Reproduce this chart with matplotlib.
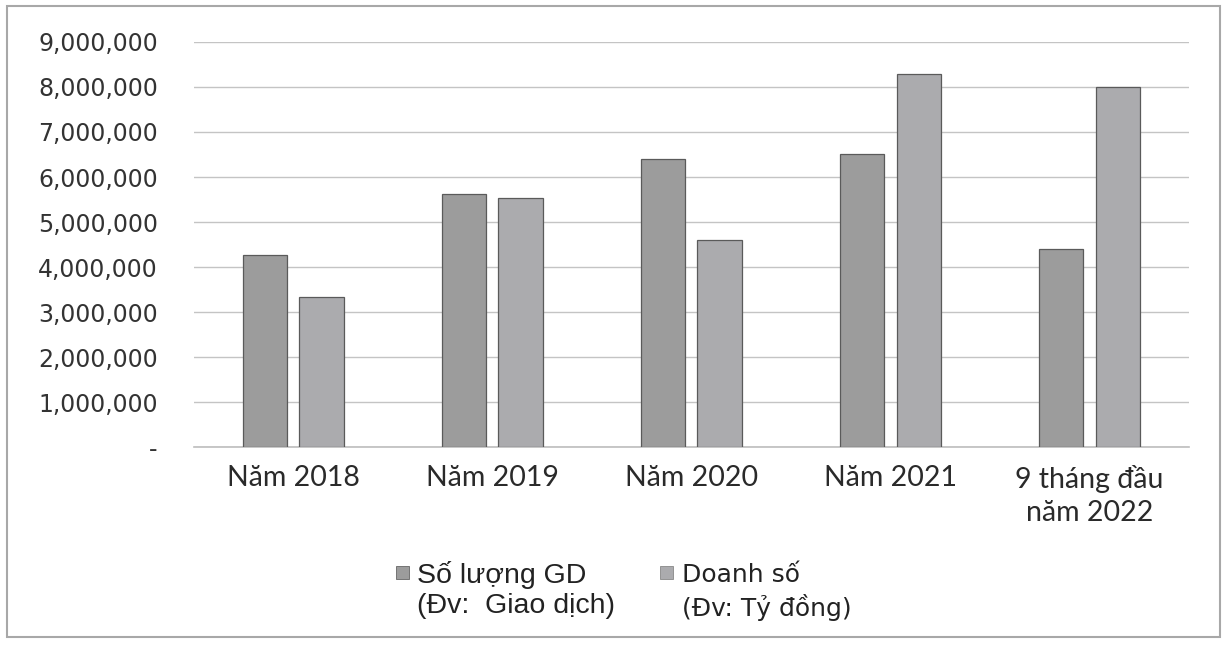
import numpy as np
import matplotlib
matplotlib.use('Agg')
import matplotlib.pyplot as plt
from matplotlib.patches import Rectangle
from matplotlib.ticker import FuncFormatter

# data
categories = ['Năm 2018', 'Năm 2019', 'Năm 2020', 'Năm 2021', '9 tháng đầu\nnăm 2022']
so_luong_gd = [4270000, 5620000, 6400000, 6510000, 4400000]
doanh_so = [3330000, 5530000, 4600000, 8290000, 8000000]
labels = ['Số lượng GD\n(Đv:  Giao dịch)', 'Doanh số\n(Đv: Tỷ đồng)']

col_gd = '#9c9c9c'
col_ds = '#ababae'

fig = plt.figure(figsize=(12.27, 6.46), dpi=100)
ax = fig.add_axes([0.158, 0.308, 0.811, 0.627])

x = np.arange(len(categories))
w = 0.225
ax.bar(x - 0.143, so_luong_gd, w, color=col_gd, edgecolor='#5a5a5a', linewidth=0.9, zorder=3)
ax.bar(x + 0.143, doanh_so, w, color=col_ds, edgecolor='#5a5a5a', linewidth=0.9, zorder=3)

ax.set_xlim(-0.5, len(categories) - 0.5)
ax.set_ylim(0, 9000000)
ax.set_yticks(np.arange(0, 9000001, 1000000))
ax.yaxis.set_major_formatter(FuncFormatter(lambda v, p: '-' if v == 0 else f'{int(v):,}'))
ax.grid(axis='y', color='#c4c4c4', linewidth=1.0, zorder=0)
for s in ['top', 'right', 'left']:
    ax.spines[s].set_visible(False)
ax.spines['bottom'].set_color('#bdbdbd')
ax.spines['bottom'].set_linewidth(1.2)

ax.set_xticks(x)
ax.set_xticklabels(categories, fontfamily='Lato', fontsize=20.5, color='#2a2a2a', linespacing=1.32)
ax.tick_params(axis='x', length=0, pad=13)
ax.tick_params(axis='y', length=0, pad=26, labelsize=17, labelcolor='#333333')

# legend drawn by hand: square beside the first line of each label
leg_y1 = 1 - 561 / 646
fig.patches.append(Rectangle((396 / 1227, 1 - 579 / 646), 13 / 1227, 13 / 646,
                             transform=fig.transFigure, facecolor=col_gd, edgecolor='#666666', linewidth=0.6))
fig.patches.append(Rectangle((660 / 1227, 1 - 579 / 646), 13 / 1227, 13 / 646,
                             transform=fig.transFigure, facecolor=col_ds, edgecolor='#888888', linewidth=0.6))
fig.text(417 / 1227, leg_y1, labels[0], fontfamily='Liberation Sans', fontsize=20.5, color='#222222',
         va='top', ha='left', linespacing=1.2, transform=fig.transFigure)
fig.text(682 / 1227, leg_y1 - 2 / 646, labels[1], fontfamily='DejaVu Sans', fontsize=18, color='#222222',
         va='top', ha='left', linespacing=1.3, transform=fig.transFigure)

# outer frame of the chart
fig.patches.append(Rectangle((7 / 1227, 1 - 637 / 646), 1213 / 1227, 631 / 646,
                             transform=fig.transFigure, fill=False, edgecolor='#a8a8a8', linewidth=1.5))

fig.savefig('out.png', dpi=100, facecolor='white')
